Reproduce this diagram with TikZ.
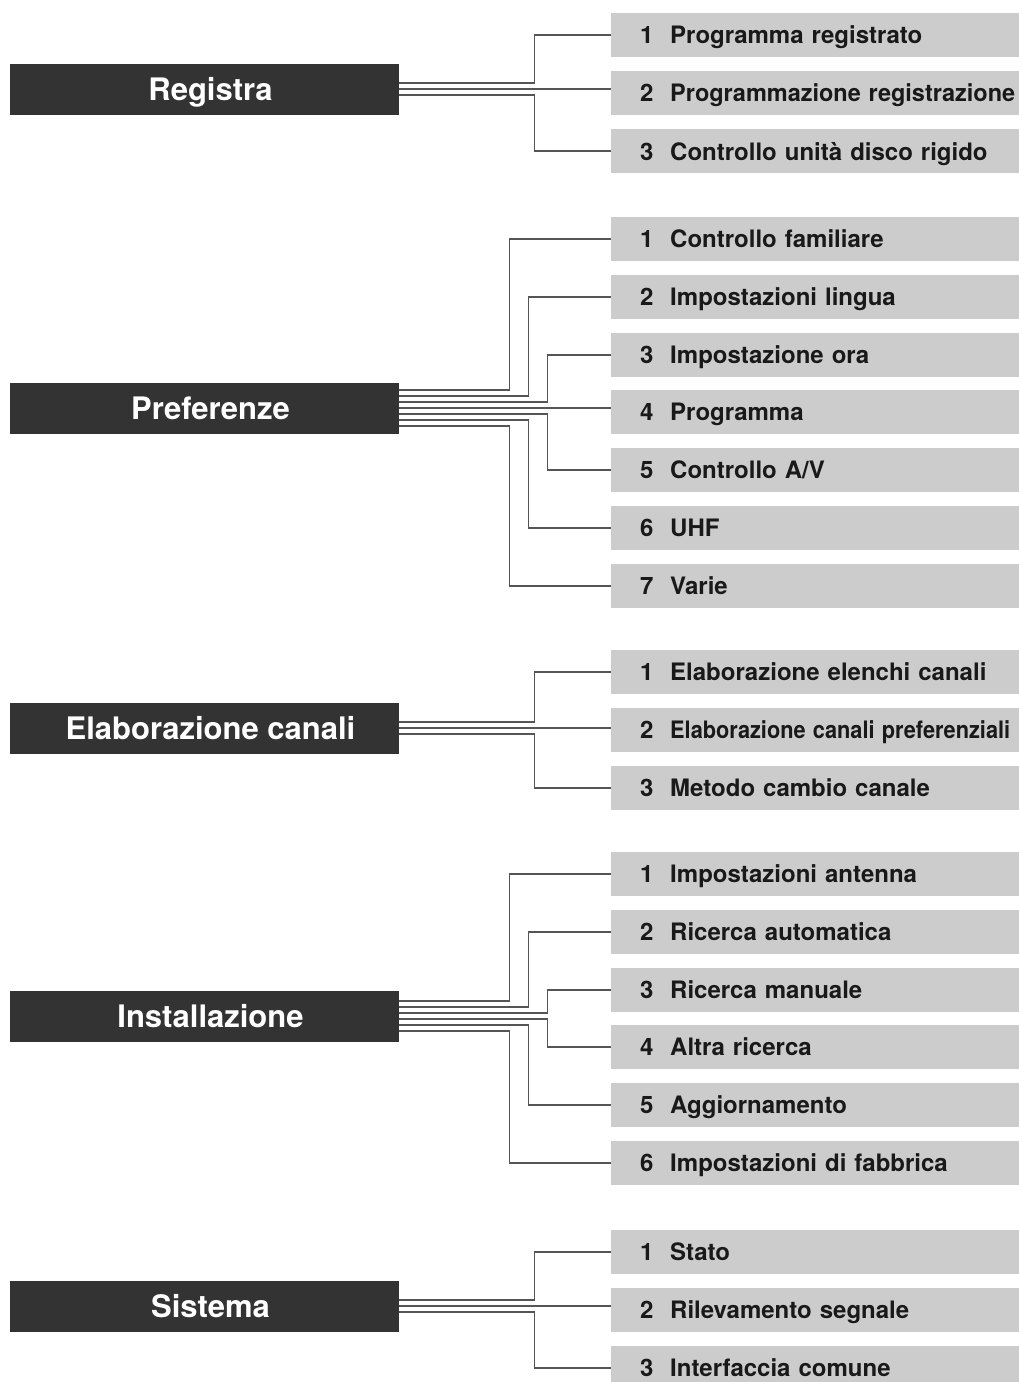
\documentclass[tikz,border=0pt]{standalone}
\usepackage{fontspec}
\setmainfont{TeX Gyre Heros}
\usepackage{graphicx}
\definecolor{headbg}{HTML}{333333}
\definecolor{itembg}{HTML}{CCCCCC}
\definecolor{linec}{HTML}{555555}
\newcommand{\itx}[2]{\mbox{\hspace*{29pt}\makebox[30pt][l]{#1}#2}}
\begin{document}
\begin{tikzpicture}[x=1pt,y=-1pt,
  head/.style={fill=headbg, text=white, minimum width=389pt, minimum height=51pt, inner sep=0pt, text depth=0pt, font=\fontsize{31}{36}\selectfont\bfseries, execute at begin node={\hspace*{12pt}}},
  item/.style={fill=itembg, text=black!90, minimum width=408pt, text width=408pt, minimum height=44pt, inner sep=0pt, text depth=0pt, align=left, anchor=west, font=\fontsize{24}{28}\selectfont\bfseries},
  conn/.style={draw=linec, line width=1.4pt}]
\clip (0,0) rectangle (1019,1382);
\fill[white] (0,0) rectangle (1019,1382);

% Registra
\node[head] (R) at (204.5,89) {Registra};
\node[item] (R1) at (611,35) {\itx{1}{Programma registrato}};
\node[item] (R2) at (611,93) {\itx{2}{\resizebox{345pt}{\height}{Programmazione registrazione}}};
\node[item] (R3) at (611,151) {\itx{3}{Controllo unità disco rigido}};
\draw[conn] ([yshift=6pt]R.east) -- ++(135,0) |- (R1.west);
\draw[conn] (R.east) -- (R.east -| R2.west);
\draw[conn] ([yshift=-6pt]R.east) -- ++(135,0) |- (R3.west);

% Preferenze
\node[head] (P) at (204.5,408) {Preferenze};
\node[item] (P1) at (611,239) {\itx{1}{Controllo familiare}};
\node[item] (P2) at (611,297) {\itx{2}{Impostazioni lingua}};
\node[item] (P3) at (611,355) {\itx{3}{Impostazione ora}};
\node[item] (P4) at (611,412) {\itx{4}{Programma}};
\node[item] (P5) at (611,470) {\itx{5}{Controllo A/V}};
\node[item] (P6) at (611,528) {\itx{6}{UHF}};
\node[item] (P7) at (611,586) {\itx{7}{Varie}};
\draw[conn] ([yshift=18pt]P.east) -- ++(110,0) |- (P1.west);
\draw[conn] ([yshift=12pt]P.east) -- ++(129,0) |- (P2.west);
\draw[conn] ([yshift=6pt]P.east) -- ++(148,0) |- (P3.west);
\draw[conn] (P.east) -- (P.east -| P4.west);
\draw[conn] ([yshift=-6pt]P.east) -- ++(148,0) |- (P5.west);
\draw[conn] ([yshift=-12pt]P.east) -- ++(129,0) |- (P6.west);
\draw[conn] ([yshift=-18pt]P.east) -- ++(110,0) |- (P7.west);

% Elaborazione canali
\node[head] (E) at (204.5,728) {Elaborazione canali};
\node[item] (E1) at (611,672) {\itx{1}{Elaborazione elenchi canali}};
\node[item] (E2) at (611,730) {\itx{2}{\resizebox{340pt}{\height}{Elaborazione canali preferenziali}}};
\node[item] (E3) at (611,788) {\itx{3}{Metodo cambio canale}};
\draw[conn] ([yshift=6pt]E.east) -- ++(135,0) |- (E1.west);
\draw[conn] (E.east) -- (E.east -| E2.west);
\draw[conn] ([yshift=-6pt]E.east) -- ++(135,0) |- (E3.west);

% Installazione
\node[head] (I) at (204.5,1016) {Installazione};
\node[item] (I1) at (611,874) {\itx{1}{Impostazioni antenna}};
\node[item] (I2) at (611,932) {\itx{2}{Ricerca automatica}};
\node[item] (I3) at (611,990) {\itx{3}{Ricerca manuale}};
\node[item] (I4) at (611,1047) {\itx{4}{Altra ricerca}};
\node[item] (I5) at (611,1105) {\itx{5}{Aggiornamento}};
\node[item] (I6) at (611,1163) {\itx{6}{Impostazioni di fabbrica}};
\draw[conn] ([yshift=15pt]I.east) -- ++(110,0) |- (I1.west);
\draw[conn] ([yshift=9pt]I.east) -- ++(129,0) |- (I2.west);
\draw[conn] ([yshift=3pt]I.east) -- ++(148,0) |- (I3.west);
\draw[conn] ([yshift=-3pt]I.east) -- ++(148,0) |- (I4.west);
\draw[conn] ([yshift=-9pt]I.east) -- ++(129,0) |- (I5.west);
\draw[conn] ([yshift=-15pt]I.east) -- ++(110,0) |- (I6.west);

% Sistema
\node[head] (S) at (204.5,1306) {Sistema};
\node[item] (S1) at (611,1252) {\itx{1}{Stato}};
\node[item] (S2) at (611,1310) {\itx{2}{Rilevamento segnale}};
\node[item] (S3) at (611,1368) {\itx{3}{Interfaccia comune}};
\draw[conn] ([yshift=6pt]S.east) -- ++(135,0) |- (S1.west);
\draw[conn] (S.east) -- (S.east -| S2.west);
\draw[conn] ([yshift=-6pt]S.east) -- ++(135,0) |- (S3.west);
\end{tikzpicture}
\end{document}
